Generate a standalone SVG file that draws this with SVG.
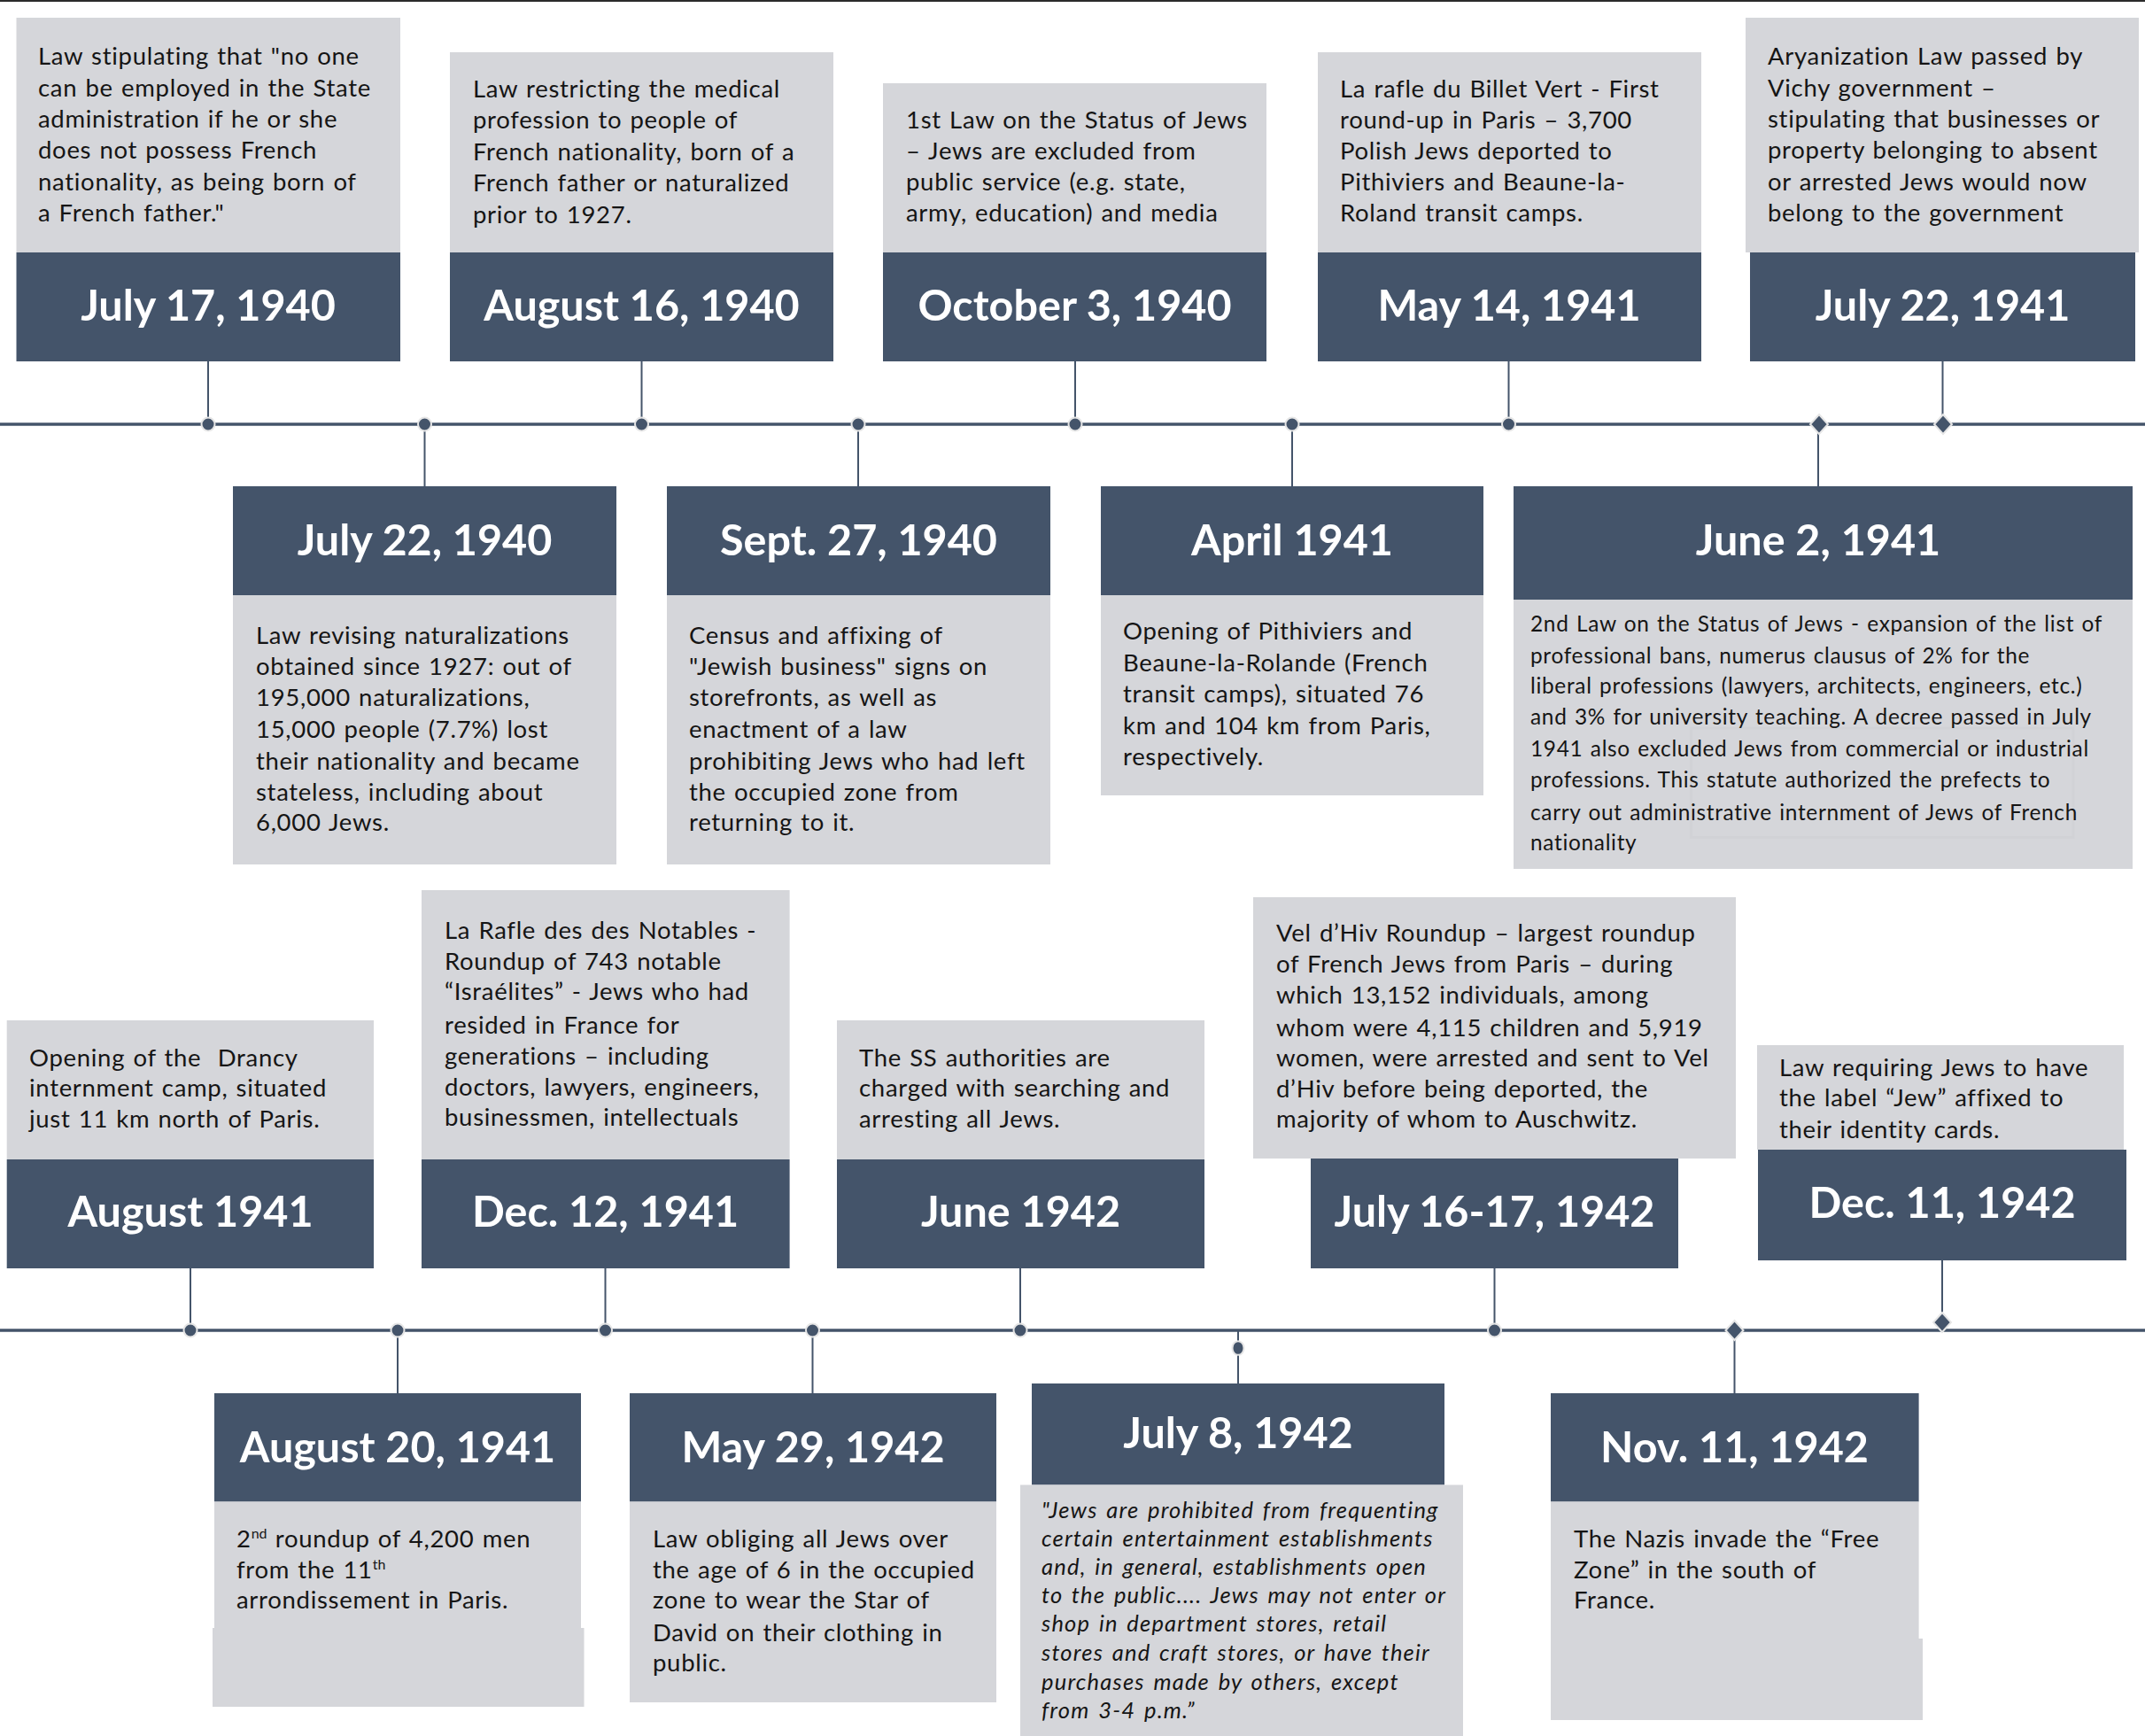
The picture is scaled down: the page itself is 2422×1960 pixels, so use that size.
<svg xmlns="http://www.w3.org/2000/svg" width="2422" height="1960" viewBox="0 0 2422 1960">
<style>
.g{fill:#D5D6DA}
.d{fill:#44546A}
.dt{font-family:Lato,"Liberation Sans",sans-serif;font-weight:700;font-size:48.5px;fill:#FFFFFF;text-anchor:middle}
.bt{font-family:Lato,"Liberation Sans",sans-serif;font-size:27.5px;letter-spacing:0.7px;word-spacing:1.5px;fill:#151515}
.bs{font-size:24.4px}
.bi{font-style:italic;font-size:25.5px;letter-spacing:1.2px;word-spacing:2.5px}
.sup{font-size:16px;letter-spacing:0}
.stem{stroke:#44546A;stroke-width:2;fill:none}
.tl{stroke:#44546A;stroke-width:3.5;fill:none}
.mk{fill:#44546A;stroke:#E6E6E6;stroke-width:2}
</style>
<rect x="0" y="0" width="2422" height="2" fill="#2B2B2B"/>
<g id="connectors">
<line class="tl" x1="0" y1="479" x2="2422" y2="479"/>
<line class="tl" x1="0" y1="1502" x2="2422" y2="1502"/>
<line class="stem" x1="235" y1="408" x2="235" y2="479"/>
<line class="stem" x1="724.5" y1="408" x2="724.5" y2="479"/>
<line class="stem" x1="1214" y1="408" x2="1214" y2="479"/>
<line class="stem" x1="1703.5" y1="408" x2="1703.5" y2="479"/>
<line class="stem" x1="2193.5" y1="408" x2="2193.5" y2="479"/>
<line class="stem" x1="479.5" y1="479" x2="479.5" y2="549"/>
<line class="stem" x1="969" y1="479" x2="969" y2="549"/>
<line class="stem" x1="1459" y1="479" x2="1459" y2="549"/>
<line class="stem" x1="2053" y1="479" x2="2053" y2="549"/>
<line class="stem" x1="215" y1="1432" x2="215" y2="1502"/>
<line class="stem" x1="683.5" y1="1432" x2="683.5" y2="1502"/>
<line class="stem" x1="1152" y1="1432" x2="1152" y2="1502"/>
<line class="stem" x1="1687.5" y1="1432" x2="1687.5" y2="1502"/>
<line class="stem" x1="2193" y1="1423" x2="2193" y2="1493"/>
<line class="stem" x1="449" y1="1502" x2="449" y2="1573"/>
<line class="stem" x1="917.5" y1="1502" x2="917.5" y2="1573"/>
<line class="stem" x1="1398" y1="1502" x2="1398" y2="1562"/>
<line class="stem" x1="1958.5" y1="1502" x2="1958.5" y2="1573"/>
<circle class="mk" cx="235" cy="479" r="7.5"/>
<circle class="mk" cx="479.5" cy="479" r="7.5"/>
<circle class="mk" cx="724.5" cy="479" r="7.5"/>
<circle class="mk" cx="969" cy="479" r="7.5"/>
<circle class="mk" cx="1214" cy="479" r="7.5"/>
<circle class="mk" cx="1459" cy="479" r="7.5"/>
<circle class="mk" cx="1703.5" cy="479" r="7.5"/>
<polygon class="mk" points="2054,468 2064,479 2054,490 2044,479"/>
<polygon class="mk" points="2194,468 2204,479 2194,490 2184,479"/>
<circle class="mk" cx="215" cy="1502" r="7.5"/>
<circle class="mk" cx="449" cy="1502" r="7.5"/>
<circle class="mk" cx="683.5" cy="1502" r="7.5"/>
<circle class="mk" cx="917.5" cy="1502" r="7.5"/>
<circle class="mk" cx="1152" cy="1502" r="7.5"/>
<circle class="mk" cx="1687.5" cy="1502" r="7.5"/>
<ellipse class="mk" cx="1398" cy="1522" rx="6.5" ry="7.8"/>
<polygon class="mk" points="1958.5,1491 1968.5,1502 1958.5,1513 1948.5,1502"/>
<polygon class="mk" points="2193,1482 2203,1493 2193,1504 2183,1493"/>
</g>

<g id="n-1940-07-17">
<rect class="g" x="18.5" y="20" width="433.5" height="265"/>
<rect class="d" x="18.5" y="285" width="433.5" height="123"/>
<text class="dt" x="235" y="362">July 17, 1940</text>
<text class="bt"><tspan x="43" y="73">Law stipulating that "no one</tspan><tspan x="43" y="108.5">can be employed in the State</tspan><tspan x="43" y="144">administration if he or she</tspan><tspan x="43" y="179">does not possess French</tspan><tspan x="43" y="214.5">nationality, as being born of</tspan><tspan x="43" y="250">a French father."</tspan></text>
</g>

<g id="n-1940-08-16">
<rect class="g" x="508" y="59" width="433" height="226"/>
<rect class="d" x="508" y="285" width="433" height="123"/>
<text class="dt" x="724.5" y="362">August 16, 1940</text>
<text class="bt"><tspan x="534" y="110">Law restricting the medical</tspan><tspan x="534" y="145">profession to people of</tspan><tspan x="534" y="181">French nationality, born of a</tspan><tspan x="534" y="216">French father or naturalized</tspan><tspan x="534" y="252">prior to 1927.</tspan></text>
</g>

<g id="n-1940-10-03">
<rect class="g" x="997" y="94" width="433" height="191"/>
<rect class="d" x="997" y="285" width="433" height="123"/>
<text class="dt" x="1213.5" y="362">October 3, 1940</text>
<text class="bt"><tspan x="1023" y="145">1st Law on the Status of Jews</tspan><tspan x="1023" y="180">– Jews are excluded from</tspan><tspan x="1023" y="215">public service (e.g. state,</tspan><tspan x="1023" y="250">army, education) and media</tspan></text>
</g>

<g id="n-1941-05-14">
<rect class="g" x="1488" y="59" width="433" height="226"/>
<rect class="d" x="1488" y="285" width="433" height="123"/>
<text class="dt" x="1704" y="362">May 14, 1941</text>
<text class="bt"><tspan x="1513" y="110">La rafle du Billet Vert - First</tspan><tspan x="1513" y="145">round-up in Paris – 3,700</tspan><tspan x="1513" y="180">Polish Jews deported to</tspan><tspan x="1513" y="215">Pithiviers and Beaune-la-</tspan><tspan x="1513" y="250">Roland transit camps.</tspan></text>
</g>

<g id="n-1941-07-22">
<rect class="g" x="1971" y="20" width="444" height="265"/>
<rect class="d" x="1976" y="285" width="435" height="123"/>
<text class="dt" x="2193.5" y="362">July 22, 1941</text>
<text class="bt"><tspan x="1996" y="73">Aryanization Law passed by</tspan><tspan x="1996" y="108.5">Vichy government –</tspan><tspan x="1996" y="144">stipulating that businesses or</tspan><tspan x="1996" y="179">property belonging to absent</tspan><tspan x="1996" y="214.5">or arrested Jews would now</tspan><tspan x="1996" y="250">belong to the government</tspan></text>
</g>

<g id="n-1940-07-22">
<rect class="d" x="263" y="549" width="433" height="123"/>
<rect class="g" x="263" y="672" width="433" height="304"/>
<text class="dt" x="479.5" y="627">July 22, 1940</text>
<text class="bt"><tspan x="289" y="727">Law revising naturalizations</tspan><tspan x="289" y="762">obtained since 1927: out of</tspan><tspan x="289" y="797">195,000 naturalizations,</tspan><tspan x="289" y="833">15,000 people (7.7%) lost</tspan><tspan x="289" y="869">their nationality and became</tspan><tspan x="289" y="904">stateless, including about</tspan><tspan x="289" y="938">6,000 Jews.</tspan></text>
</g>

<g id="n-1940-09-27">
<rect class="d" x="753" y="549" width="433" height="123"/>
<rect class="g" x="753" y="672" width="433" height="304"/>
<text class="dt" x="969.5" y="627">Sept. 27, 1940</text>
<text class="bt"><tspan x="778" y="727">Census and affixing of</tspan><tspan x="778" y="762">"Jewish business" signs on</tspan><tspan x="778" y="797">storefronts, as well as</tspan><tspan x="778" y="833">enactment of a law</tspan><tspan x="778" y="869">prohibiting Jews who had left</tspan><tspan x="778" y="904">the occupied zone from</tspan><tspan x="778" y="938">returning to it.</tspan></text>
</g>

<g id="n-1941-04">
<rect class="d" x="1243" y="549" width="432" height="123"/>
<rect class="g" x="1243" y="672" width="432" height="226"/>
<text class="dt" x="1459" y="627">April 1941</text>
<text class="bt"><tspan x="1268" y="722">Opening of Pithiviers and</tspan><tspan x="1268" y="758">Beaune-la-Rolande (French</tspan><tspan x="1268" y="793">transit camps), situated 76</tspan><tspan x="1268" y="829">km and 104 km from Paris,</tspan><tspan x="1268" y="864">respectively.</tspan></text>
</g>

<g id="n-1941-06-02">
<rect class="d" x="1709" y="549" width="699" height="128"/>
<rect class="g" x="1709" y="677" width="699" height="304"/>
<rect x="1909.5" y="822" width="431.5" height="123.5" fill="none" stroke="#D1D2D6" stroke-width="3"/>
<text class="dt" x="2053" y="627">June 2, 1941</text>
<text class="bt bs"><tspan x="1728" y="713">2nd Law on the Status of Jews - expansion of the list of</tspan><tspan x="1728" y="749">professional bans, numerus clausus of 2% for the</tspan><tspan x="1728" y="783">liberal professions (lawyers, architects, engineers, etc.)</tspan><tspan x="1728" y="818">and 3% for university teaching. A decree passed in July</tspan><tspan x="1728" y="854">1941 also excluded Jews from commercial or industrial</tspan><tspan x="1728" y="889">professions. This statute authorized the prefects to</tspan><tspan x="1728" y="926">carry out administrative internment of Jews of French</tspan><tspan x="1728" y="960">nationality</tspan></text>
</g>

<g id="n-1941-08">
<rect class="g" x="7.7" y="1152" width="414.3" height="157"/>
<rect class="d" x="7.7" y="1309" width="414.3" height="123"/>
<text class="dt" x="215" y="1385">August 1941</text>
<text class="bt"><tspan x="33" y="1204">Opening of the&#160; Drancy</tspan><tspan x="33" y="1238">internment camp, situated</tspan><tspan x="33" y="1273">just 11 km north of Paris.</tspan></text>
</g>

<g id="n-1941-12-12">
<rect class="g" x="476" y="1005" width="415.6" height="304"/>
<rect class="d" x="476" y="1309" width="415.6" height="123"/>
<text class="dt" x="683.5" y="1385">Dec. 12, 1941</text>
<text class="bt"><tspan x="502" y="1060">La Rafle des des Notables -</tspan><tspan x="502" y="1095">Roundup of 743 notable</tspan><tspan x="502" y="1129">“Israélites” - Jews who had</tspan><tspan x="502" y="1167">resided in France for</tspan><tspan x="502" y="1202">generations – including</tspan><tspan x="502" y="1237">doctors, lawyers, engineers,</tspan><tspan x="502" y="1271">businessmen, intellectuals</tspan></text>
</g>

<g id="n-1942-06">
<rect class="g" x="945" y="1152" width="415" height="157"/>
<rect class="d" x="945" y="1309" width="415" height="123"/>
<text class="dt" x="1152.5" y="1385">June 1942</text>
<text class="bt"><tspan x="970" y="1204">The SS authorities are</tspan><tspan x="970" y="1238">charged with searching and</tspan><tspan x="970" y="1273">arresting all Jews.</tspan></text>
</g>

<g id="n-1942-07-16">
<rect class="g" x="1415" y="1013" width="545" height="295"/>
<rect class="d" x="1480" y="1308" width="415" height="124"/>
<text class="dt" x="1687.5" y="1385">July 16-17, 1942</text>
<text class="bt"><tspan x="1441" y="1063">Vel d’Hiv Roundup – largest roundup</tspan><tspan x="1441" y="1098">of French Jews from Paris – during</tspan><tspan x="1441" y="1133">which 13,152 individuals, among</tspan><tspan x="1441" y="1170">whom were 4,115 children and 5,919</tspan><tspan x="1441" y="1204">women, were arrested and sent to Vel</tspan><tspan x="1441" y="1239">d’Hiv before being deported, the</tspan><tspan x="1441" y="1273">majority of whom to Auschwitz.</tspan></text>
</g>

<g id="n-1942-12-11">
<rect class="g" x="1984" y="1180" width="414" height="118"/>
<rect class="d" x="1985" y="1298" width="416" height="125"/>
<text class="dt" x="2193" y="1375">Dec. 11, 1942</text>
<text class="bt"><tspan x="2009" y="1215">Law requiring Jews to have</tspan><tspan x="2009" y="1249">the label “Jew” affixed to</tspan><tspan x="2009" y="1285">their identity cards.</tspan></text>
</g>

<g id="n-1941-08-20">
<rect class="d" x="242" y="1573" width="414" height="122.5"/>
<rect class="g" x="242" y="1695.5" width="414" height="142.5"/>
<rect class="g" x="240" y="1838" width="419.5" height="89"/>
<text class="dt" x="449" y="1651">August 20, 1941</text>
<text class="bt"><tspan x="267" y="1747">2<tspan class="sup" dy="-10">nd</tspan><tspan dy="10"> roundup of 4,200 men</tspan></tspan><tspan x="267" y="1782">from the 11<tspan class="sup" dy="-10">th</tspan></tspan><tspan x="267" y="1816">arrondissement in Paris.</tspan></text>
</g>

<g id="n-1942-05-29">
<rect class="d" x="711" y="1573" width="414" height="122.5"/>
<rect class="g" x="711" y="1695.5" width="414" height="226.5"/>
<text class="dt" x="918" y="1651">May 29, 1942</text>
<text class="bt"><tspan x="737" y="1747">Law obliging all Jews over</tspan><tspan x="737" y="1782">the age of 6 in the occupied</tspan><tspan x="737" y="1816">zone to wear the Star of</tspan><tspan x="737" y="1853">David on their clothing in</tspan><tspan x="737" y="1887">public.</tspan></text>
</g>

<g id="n-1942-07-08">
<rect class="d" x="1165" y="1562" width="466" height="114.5"/>
<rect class="g" x="1152" y="1676.5" width="500" height="283.5"/>
<text class="dt" x="1398" y="1635">July 8, 1942</text>
<text class="bt bi"><tspan x="1176" y="1714">"Jews are prohibited from frequenting</tspan><tspan x="1176" y="1746">certain entertainment establishments</tspan><tspan x="1176" y="1778">and, in general, establishments open</tspan><tspan x="1176" y="1810">to the public.... Jews may not enter or</tspan><tspan x="1176" y="1842">shop in department stores, retail</tspan><tspan x="1176" y="1875">stores and craft stores, or have their</tspan><tspan x="1176" y="1908">purchases made by others, except</tspan><tspan x="1176" y="1940">from 3-4 p.m.”</tspan></text>
</g>

<g id="n-1942-11-11">
<rect class="d" x="1751" y="1573" width="415.6" height="122.5"/>
<rect class="g" x="1751" y="1695.5" width="415.6" height="154.5"/>
<rect class="g" x="1751" y="1850" width="420" height="92"/>
<text class="dt" x="1958.5" y="1651">Nov. 11, 1942</text>
<text class="bt"><tspan x="1777" y="1747">The Nazis invade the “Free</tspan><tspan x="1777" y="1782">Zone” in the south of</tspan><tspan x="1777" y="1816">France.</tspan></text>
</g>
</svg>
